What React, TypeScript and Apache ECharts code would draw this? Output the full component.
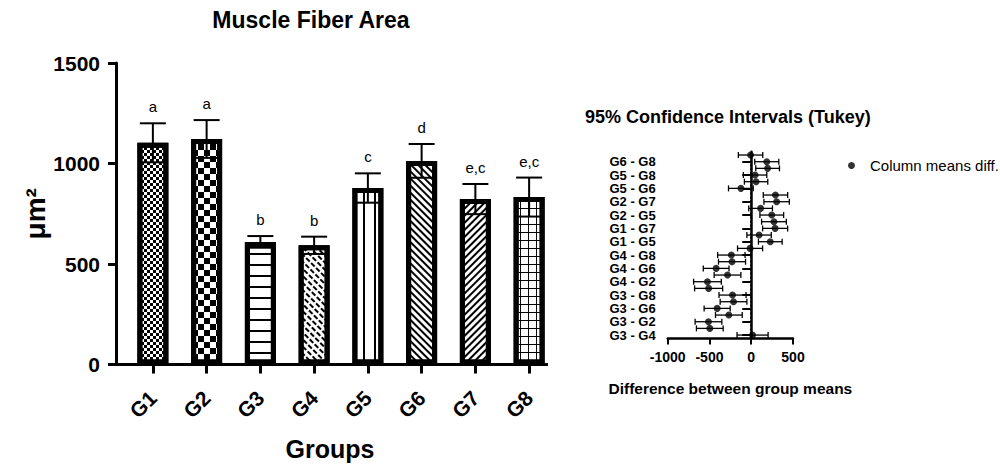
import React, { useEffect, useRef } from "react";
import * as echarts from "echarts";

// ---- Left panel data ----
const groups = ["G1", "G2", "G3", "G4", "G5", "G6", "G7", "G8"];
const means = [1103, 1122, 610, 593, 878, 1013, 823, 833];
const sds = [97, 94, 29, 43, 73, 84, 75, 97];
const letters = ["a", "a", "b", "b", "c", "d", "e,c", "e,c"];
const areaTicks = [0, 500, 1000, 1500];

// ---- Right panel data (bottom to top) ----
const comparisons = [
  "G3 - G4", "G3 - G1", "G3 - G2", "G3 - G5", "G3 - G6", "G3 - G7", "G3 - G8",
  "G4 - G1", "G4 - G2", "G4 - G5", "G4 - G6", "G4 - G7", "G4 - G8",
  "G1 - G2", "G1 - G5", "G1 - G6", "G1 - G7", "G1 - G8",
  "G2 - G5", "G2 - G6", "G2 - G7", "G2 - G8",
  "G5 - G6", "G5 - G7", "G5 - G8",
  "G6 - G7", "G6 - G8",
  "G7 - G8",
];
const diffMeans = [16, -496, -512, -268, -408, -212, -224, -510, -524, -284, -420, -230, -238, -14, 228, 94, 286, 272, 246, 112, 304, 290, -124, 58, 46, 196, 186, -8];
const ciLower = [-170, -656, -672, -428, -564, -372, -386, -678, -690, -444, -574, -392, -402, -164, 86, -52, 136, 124, 104, -30, 152, 144, -272, -82, -94, 54, 42, -154];
const ciUpper = [202, -336, -352, -108, -252, -52, -62, -342, -358, -124, -266, -68, -74, 136, 370, 240, 436, 420, 388, 254, 456, 436, 24, 198, 186, 338, 330, 138];
const diffTicks = [-1000, -500, 0, 500];

const FONT = "'Liberation Sans', Arial, sans-serif";

// layout
const G0 = { left: 126, top: 63, width: 430, height: 301.5 };
const G1 = { left: 667.7, top: 151.7, width: 125.3, height: 186.7 };

const decals: any[] = [
  { symbol: "rect", symbolSize: 1, dashArrayX: [[3, 3], [0, 3, 3, 0]], dashArrayY: [3, 0], color: "#000", backgroundColor: "#fff" },
  { symbol: "rect", symbolSize: 1, dashArrayX: [[6, 6], [0, 6, 6, 0]], dashArrayY: [6, 0], color: "#000", backgroundColor: "#fff" },
  { symbol: "rect", symbolSize: 1, dashArrayX: [1, 0], dashArrayY: [1.2, 8.5], color: "#000", backgroundColor: "#fff" },
  { symbol: "rect", symbolSize: 1, dashArrayX: [[5, 2], [2, 2, 3, 0]], dashArrayY: [1.2, 2.4], rotation: Math.PI / 4, color: "#000", backgroundColor: "#fff" },
  { symbol: "rect", symbolSize: 1, dashArrayX: [1.2, 8.3], dashArrayY: [1, 0], color: "#000", backgroundColor: "#fff" },
  { symbol: "rect", symbolSize: 1, dashArrayX: [1, 0], dashArrayY: [1.2, 2.6], rotation: Math.PI / 4, color: "#000", backgroundColor: "#fff" },
  { symbol: "rect", symbolSize: 1, dashArrayX: [1, 0], dashArrayY: [1.2, 2.6], rotation: -Math.PI / 4, color: "#000", backgroundColor: "#fff" },
  { symbol: "path://M0,0H10V1.2H1.2V10H0Z", symbolSize: 1, dashArrayX: [8, 0], dashArrayY: [8, 0], color: "#000", backgroundColor: "#fff" },
];

export default function App() {
  const ref = useRef<HTMLDivElement>(null);
  useEffect(() => {
    if (!ref.current) return;
    const chart = echarts.init(ref.current, undefined, { renderer: "svg" });
    const option: any = {
      animation: false,
      backgroundColor: "#fff",
      textStyle: { fontFamily: FONT, color: "#000" },
      grid: [
        { ...G0, containLabel: false },
        { ...G1, containLabel: false },
      ],
      legend: {
        data: ["Column means diff."],
        left: 843,
        top: 153,
        icon: "circle",
        itemWidth: 7,
        itemHeight: 7,
        textStyle: { fontFamily: FONT, fontSize: 15, color: "#000", padding: [0, 0, 0, 10] },
      },
      graphic: [
        { type: "text", x: 311, y: 8, style: { text: "Muscle Fiber Area", font: `bold 23px ${FONT}`, fill: "#000", textAlign: "center" } },
        { type: "text", x: 585, y: 108, style: { text: "95% Confidence Intervals (Tukey)", font: `bold 18px ${FONT}`, fill: "#000", textAlign: "left" } },
        { type: "line", shape: { x1: G0.left - 11.5, y1: G0.top + G0.height, x2: 548, y2: G0.top + G0.height }, style: { stroke: "#000", lineWidth: 3 }, z: 10 },
      ],
      xAxis: [
        {
          gridIndex: 0,
          type: "category",
          data: groups,
          axisLine: { show: false },
          axisTick: { show: true, alignWithLabel: true, length: 9, lineStyle: { color: "#000", width: 3 } },
          axisLabel: { rotate: 45, fontSize: 21, fontWeight: "bold", color: "#000", margin: 30, fontFamily: FONT },
          name: "Groups",
          nameLocation: "middle",
          nameGap: 72,
          nameTextStyle: { fontSize: 25, fontWeight: "bold", color: "#000", fontFamily: FONT, padding: [0, 22, 0, 0] },
        },
        {
          gridIndex: 1,
          type: "value",
          min: diffTicks[0],
          max: diffTicks[diffTicks.length - 1],
          interval: 500,
          axisLine: { show: true, lineStyle: { color: "#000", width: 2.5 } },
          axisTick: { show: true, length: 6, lineStyle: { color: "#000", width: 2 } },
          axisLabel: { fontSize: 14, fontWeight: "bold", color: "#000", margin: 12, fontFamily: FONT, formatter: (v: number) => String(v) },
          splitLine: { show: false },
          name: "Difference between group means",
          nameLocation: "middle",
          nameGap: 42,
          nameTextStyle: { fontSize: 15.5, fontWeight: "bold", color: "#000", fontFamily: FONT },
        },
      ],
      yAxis: [
        {
          gridIndex: 0,
          type: "value",
          min: areaTicks[0],
          max: areaTicks[areaTicks.length - 1],
          interval: 500,
          offset: 10,
          axisLine: { show: true, lineStyle: { color: "#000", width: 3 } },
          axisTick: { show: true, length: 8, lineStyle: { color: "#000", width: 3 } },
          axisLabel: { fontSize: 21, fontWeight: "bold", color: "#000", margin: 16, fontFamily: FONT, formatter: (v: number) => String(v) },
          splitLine: { show: false },
          name: "μm²",
          nameLocation: "middle",
          nameRotate: 90,
          nameGap: 64,
          nameTextStyle: { fontSize: 28, fontWeight: "bold", color: "#000", fontFamily: FONT },
        },
        {
          gridIndex: 1,
          type: "category",
          data: comparisons,
          axisLine: { show: true, lineStyle: { color: "#000", width: 2.5 } },
          axisTick: { show: true, interval: 1, alignWithLabel: true, length: 9, lineStyle: { color: "#000", width: 2 } },
          axisLabel: { interval: 1, fontSize: 13, lineHeight: 12, hideOverlap: false, fontWeight: "bold", color: "#000", margin: 12, fontFamily: FONT },
          splitLine: { show: false },
        },
      ],
      series: [
        {
          type: "bar",
          xAxisIndex: 0,
          yAxisIndex: 0,
          barWidth: 31,
          data: means.map((v, i) => ({ value: v, itemStyle: { decal: decals[i] } })),
          itemStyle: { color: "#fff", borderColor: "#000", borderWidth: 5 },
          z: 2,
        },
        {
          type: "custom",
          xAxisIndex: 0,
          yAxisIndex: 0,
          z: 5,
          data: groups.map((g, i) => [i, means[i], sds[i]]),
          renderItem: (params: any, api: any) => {
            const i = api.value(0);
            const m = api.value(1);
            const sd = api.value(2);
            const top = api.coord([i, m + sd]);
            const bot = api.coord([i, m - sd]);
            const x = top[0];
            const hw = 13;
            const st = { stroke: "#000", lineWidth: 2 };
            return {
              type: "group",
              children: [
                { type: "line", shape: { x1: x, y1: top[1], x2: x, y2: bot[1] }, style: st },
                { type: "line", shape: { x1: x - hw, y1: top[1], x2: x + hw, y2: top[1] }, style: st },
                { type: "line", shape: { x1: x - hw, y1: bot[1], x2: x + hw, y2: bot[1] }, style: st },
                { type: "text", x: x, y: top[1] - 9, style: { text: letters[params.dataIndex], textAlign: "center", textVerticalAlign: "bottom", font: `15px ${FONT}`, fill: "#000" } },
              ],
            };
          },
        },
        {
          type: "custom",
          xAxisIndex: 1,
          yAxisIndex: 1,
          z: 4,
          encode: { x: [0, 1], y: 2 },
          data: comparisons.map((c, i) => [ciLower[i], ciUpper[i], i]),
          renderItem: (params: any, api: any) => {
            const a = api.coord([api.value(0), api.value(2)]);
            const b = api.coord([api.value(1), api.value(2)]);
            const st = { stroke: "#000", lineWidth: 1.3 };
            const h = 3;
            return {
              type: "group",
              children: [
                { type: "line", shape: { x1: a[0], y1: a[1], x2: b[0], y2: b[1] }, style: st },
                { type: "line", shape: { x1: a[0], y1: a[1] - h, x2: a[0], y2: a[1] + h }, style: st },
                { type: "line", shape: { x1: b[0], y1: b[1] - h, x2: b[0], y2: b[1] + h }, style: st },
              ],
            };
          },
        },
        {
          name: "Column means diff.",
          type: "scatter",
          xAxisIndex: 1,
          yAxisIndex: 1,
          symbol: "circle",
          symbolSize: 7,
          itemStyle: { color: "#000" },
          z: 6,
          data: diffMeans.map((v, i) => [v, i]),
          markLine: {
            silent: true,
            symbol: "none",
            label: { show: false },
            lineStyle: { color: "#000", type: "dotted", width: 2 },
            data: [{ xAxis: 0 }],
          },
        },
      ],
    };
    chart.setOption(option);
    return () => chart.dispose();
  }, []);
  return <div ref={ref} style={{ position: "fixed", left: 0, top: 0, width: 1000, height: 467 }} />;
}
